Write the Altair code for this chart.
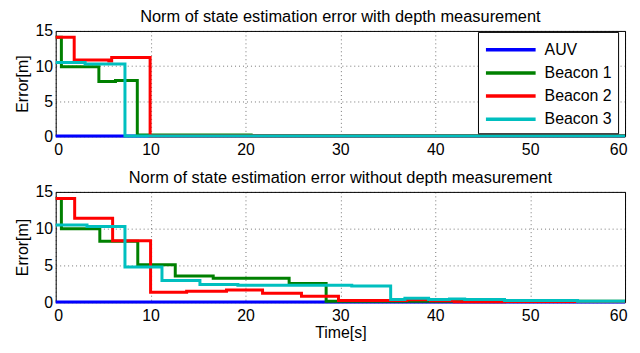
import altair as alt
import pandas as pd

series_names = ["AUV", "Beacon 1", "Beacon 2", "Beacon 3"]
series_colors = ["#0000FF", "#008000", "#FF0000", "#00BFBF"]

# Top panel: with depth measurement (step-after breakpoints)
top_auv_t = [0, 60]
top_auv_v = [0.03, 0.03]
top_b1_t = [0, 0.6, 4.55, 6.3, 8.6, 20.6, 60]
top_b1_v = [14.1, 9.9, 7.8, 7.95, 0.18, 0.08, 0.08]
top_b2_t = [0, 1.95, 5.6, 5.9, 9.95, 60]
top_b2_v = [14.1, 10.85, 10.7, 11.2, 0.03, 0.03]
top_b3_t = [0, 3.1, 7.3, 60]
top_b3_v = [10.5, 10.3, 0.05, 0.05]

# Bottom panel: without depth measurement
bot_auv_t = [0, 60]
bot_auv_v = [0.03, 0.03]
bot_b1_t = [0, 0.6, 4.65, 8.65, 12.6, 16.6, 24.6, 28.5, 60]
bot_b1_v = [14.1, 10.0, 8.3, 5.1, 3.55, 3.25, 2.55, 0.12, 0.12]
bot_b2_t = [0, 2.0, 6.0, 10.0, 13.8, 18.0, 21.8, 25.9, 29.8, 37.0, 39.5, 42.0, 47.3, 60]
bot_b2_v = [14.1, 11.4, 8.35, 1.35, 1.5, 1.65, 1.2, 0.8, 0.22, 0.32, 0.18, 0.05, 0.1, 0.1]
bot_b3_t = [0, 3.3, 7.3, 11.2, 15.2, 19.2, 31.2, 35.3, 36.8, 39.3, 41.5, 43.1, 47.3, 55.0, 60]
bot_b3_v = [10.5, 10.3, 4.8, 2.95, 2.4, 2.3, 2.2, 0.35, 0.55, 0.38, 0.45, 0.36, 0.22, 0.12, 0.12]

x_ticks = [0, 10, 20, 30, 40, 50, 60]
y_ticks = [0, 5, 10, 15]

def frame(specs):
    rows = []
    for name, ts, vs in specs:
        for i, (t, v) in enumerate(zip(ts, vs)):
            rows.append({"series": name, "t": t, "v": v, "order": i})
    return pd.DataFrame(rows)

top_df = frame([
    ("AUV", top_auv_t, top_auv_v),
    ("Beacon 1", top_b1_t, top_b1_v),
    ("Beacon 2", top_b2_t, top_b2_v),
    ("Beacon 3", top_b3_t, top_b3_v),
])
bot_df = frame([
    ("AUV", bot_auv_t, bot_auv_v),
    ("Beacon 1", bot_b1_t, bot_b1_v),
    ("Beacon 2", bot_b2_t, bot_b2_v),
    ("Beacon 3", bot_b3_t, bot_b3_v),
])

FONT = "Liberation Sans"
W = 573

def panel(df, title, show_legend, x_title, h):
    legend = None
    if show_legend:
        legend = alt.Legend(
            title=None, orient="none", legendX=425, legendY=1,
            strokeColor="black", fillColor="white", padding=6,
            symbolType="M-2.5,0H2.5", symbolSize=400, symbolStrokeWidth=3.5,
            symbolOffset=15, labelOffset=22, rowPadding=3.3,
            labelFontSize=16, labelFont=FONT, labelColor="black",
            cornerRadius=0,
        )
    x_axis = alt.Axis(values=x_ticks, title=x_title, format="d", labelFlush=True,
                      labelFlushOffset=2, titlePadding=2)
    return alt.Chart(df, title=alt.Title(title)).mark_line(
        interpolate="step-after", strokeWidth=3, clip=False
    ).encode(
        x=alt.X("t:Q", scale=alt.Scale(domain=[0, 60], nice=False), axis=x_axis),
        y=alt.Y("v:Q", scale=alt.Scale(domain=[0, 15], nice=False),
                axis=alt.Axis(values=y_ticks, title="Error[m]")),
        color=alt.Color("series:N", scale=alt.Scale(domain=series_names, range=series_colors),
                        legend=legend),
        order="order:Q",
    ).properties(width=W, height=h)

top = panel(top_df, "Norm of state estimation error with depth measurement", True, None, 106)
bot = panel(bot_df, "Norm of state estimation error without depth measurement", False, "Time[s]", 111)

chart = alt.vconcat(top, bot, spacing=12).resolve_scale(color="independent").resolve_legend(
    color="independent"
).properties(
    padding={"left": 5, "top": 0, "right": 0, "bottom": 0}
).configure_view(
    stroke="black", strokeWidth=1
).configure_axis(
    labelFont=FONT, titleFont=FONT, labelFontSize=16, titleFontSize=16,
    labelColor="black", titleColor="black", titleFontWeight="normal",
    domain=False, ticks=False, labelPadding=5, titlePadding=2,
    grid=True, gridColor="#000000", gridOpacity=0.55, gridDash=[1, 3], gridWidth=1,
).configure_axisY(
    labelPadding=3, titlePadding=5
).configure_title(
    font=FONT, fontSize=16.5, fontWeight="normal", color="black", offset=-3
)

chart.save("out.html", embed_options={"renderer": "svg", "actions": False})
